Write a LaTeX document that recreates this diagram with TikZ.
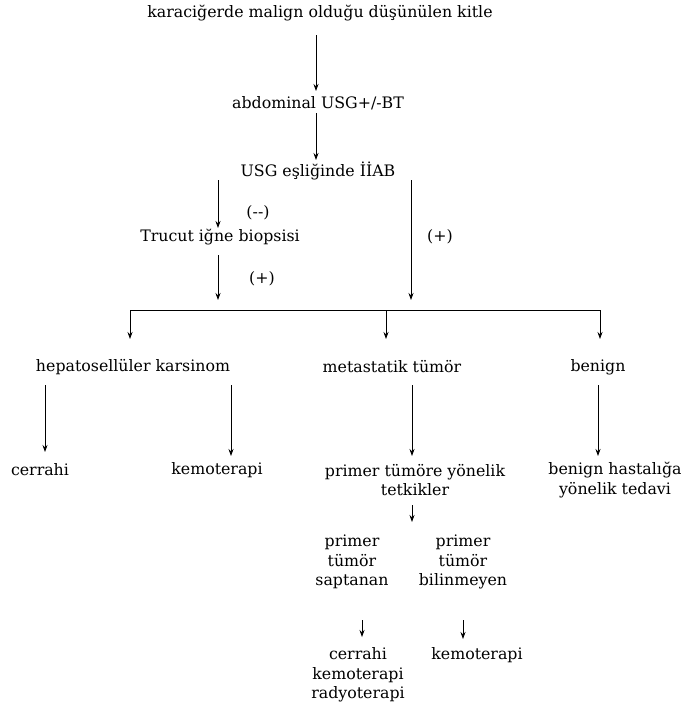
\documentclass[tikz,border=0pt]{standalone}
\usepackage{fontspec}
\setmainfont{DejaVu Serif}
\usetikzlibrary{arrows.meta}
\begin{document}
\begin{tikzpicture}[x=1pt,y=-1pt,
  lbl/.style={font=\fontsize{15.8}{19.5}\selectfont,inner sep=1pt,align=center},
  arr/.style={line width=0.8pt,-{Stealth[length=7pt,width=5pt]}},
  ln/.style={line width=0.8pt}]
\useasboundingbox (0,0) rectangle (682,710);
\node[lbl] (k) at (320,13) {karaciğerde malign olduğu düşünülen kitle};
\node[lbl] (a) at (318,103) {abdominal USG+/-BT};
\node[lbl] (u) at (318,171) {USG eşliğinde İİAB};
\node[lbl] (t) at (220,237) {Trucut iğne biopsisi};
\node[lbl] (mn) at (258,213) {(-{}-)};
\node[lbl] (p1) at (262,279) {(+)};
\node[lbl] (p2) at (440,237) {(+)};
\node[lbl] (h) at (133,367) {hepatosellüler karsinom};
\node[lbl] (m) at (392,367) {metastatik tümör};
\node[lbl] (b) at (598,367) {benign};
\node[lbl] (c1) at (40,470) {cerrahi};
\node[lbl] (k1) at (217,470) {kemoterapi};
\node[lbl] (pt) at (415,480) {primer tümöre yönelik\\tetkikler};
\node[lbl] (bh) at (615,480) {benign hastalığa\\yönelik tedavi};
\node[lbl] (ps) at (352,562) {primer\\tümör\\saptanan};
\node[lbl] (pb) at (463,562) {primer\\tümör\\bilinmeyen};
\node[lbl] (ckr) at (358,675) {cerrahi\\kemoterapi\\radyoterapi};
\node[lbl] (k2) at (477,655) {kemoterapi};
% coordinates
\coordinate (ul) at (218,180);
\coordinate (ur) at (411,180);
\coordinate (tl) at (218,255);
\coordinate (j1) at (218,300);
\coordinate (j2) at (411,300);
\coordinate (hl) at (130,310);
\coordinate (hm) at (386,310);
\coordinate (hr) at (600,310);
\draw[arr] (316,35) -- (316,91);
\draw[arr] (316,113) -- (316,160);
\draw[arr] (ul) -- (218,228);
\draw[arr] (tl) -- (j1);
\draw[arr] (ur) -- (j2);
\draw[ln] (hl) -- (hr);
\draw[arr] (hl) -- (130,339);
\draw[arr] (hm) -- (386,339);
\draw[arr] (hr) -- (600,339);
\draw[arr] (45,385) -- (45,452);
\draw[arr] (231,385) -- (231,456);
\draw[arr] (412,385) -- (412,456);
\draw[arr] (598,385) -- (598,456);
\draw[arr] (412,505) -- (412,522);
\draw[arr] (362,620) -- (362,637);
\draw[arr] (463,620) -- (463,639);
\end{tikzpicture}
\end{document}
